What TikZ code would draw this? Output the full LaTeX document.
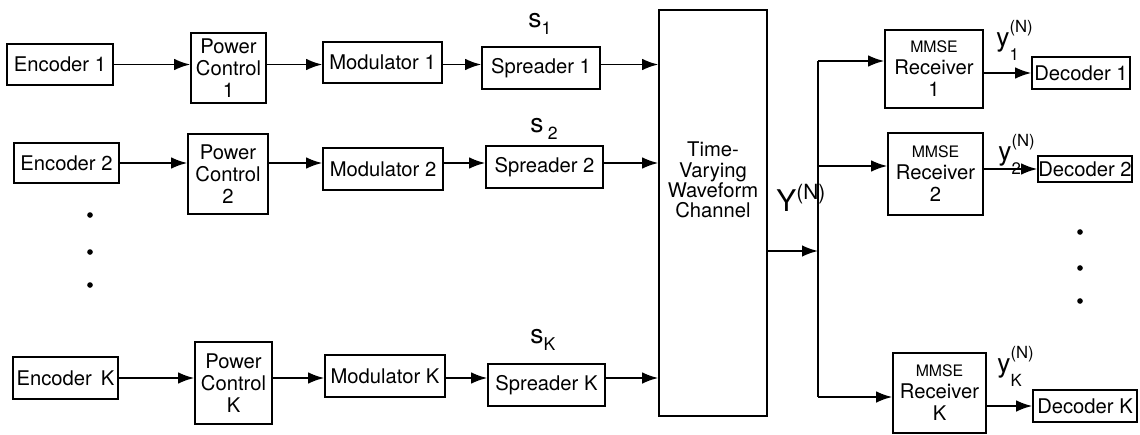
\documentclass[tikz,border=0pt]{standalone}
\usepackage{fontspec}
\setmainfont{TeX Gyre Heros}
\usetikzlibrary{arrows.meta}

\newcommand{\ylab}[1]{y\rlap{\raisebox{0.5em}{\fontsize{9.5}{10}\selectfont(N)}}%
  \raisebox{-0.55em}{\fontsize{9.5}{10}\selectfont #1}}

\begin{document}
\begin{tikzpicture}[x=0.2mm, y=-0.2mm,
  blk/.style={draw, line width=0.9pt, inner sep=0pt, align=center, font=\fontsize{11.5}{12.5}\selectfont},
  arr/.style={line width=1pt, -{Latex[length=3.2mm, width=2.3mm]}},
  lbl/.style={inner sep=0pt, anchor=base west, font=\fontsize{15}{16}\selectfont},
  dot/.style={circle, fill, inner sep=0pt, minimum size=3.2pt}]
  \useasboundingbox (0,0) rectangle (1140,435);

  % encoder
  \node[blk, minimum width=21.2mm, minimum height=8.2mm] (enc1) at (60,64.5) {Encoder 1};
  \node[blk, minimum width=21mm, minimum height=8mm] (enc2) at (66.5,163) {Encoder 2};
  \node[blk, minimum width=21mm, minimum height=8.4mm] (encK) at (65.5,378) {Encoder\, K};

  % controllo di potenza
  \node[blk, minimum width=15mm, minimum height=14mm] (pc1) at (228.5,68) {Power\\Control\\1};
  \node[blk, minimum width=16mm, minimum height=16mm] (pc2) at (228,174) {Power\\Control\\2};
  \node[blk, minimum width=15.4mm, minimum height=16.4mm] (pcK) at (233.5,383) {Power\\Control\\K};

  % modulatori
  \node[blk, minimum width=23.8mm, minimum height=8.2mm] (mod1) at (382.5,62.5) {Modulator 1};
  \node[blk, minimum width=24mm, minimum height=8.4mm] (mod2) at (383,169) {Modulator 2};
  \node[blk, minimum width=24mm, minimum height=8.4mm] (modK) at (385,376) {Modulator K};

  % spreader
  \node[blk, minimum width=23.6mm, minimum height=8.4mm] (spr1) at (541,68) {Spreader 1};
  \node[blk, minimum width=23.4mm, minimum height=8.4mm] (spr2) at (544.5,167) {Spreader 2};
  \node[blk, minimum width=23.4mm, minimum height=8.4mm] (sprK) at (546.5,385) {Spreader K};

  % canale
  \node[blk, minimum width=21.6mm, minimum height=81.2mm] (ch) at (713,213) {};
  \node[font=\fontsize{11.5}{11.5}\selectfont, align=center, inner sep=0pt] (chtxt) at (713,180) {Time-\\Varying\\Waveform\\Channel};

  % ricevitori
  \node[blk, minimum width=19.6mm, minimum height=15.6mm] (rec1) at (934,69) {{\fontsize{9}{12.5}\selectfont MMSE}\\Receiver\\1};
  \node[blk, minimum width=19mm, minimum height=16.4mm] (rec2) at (935.5,174) {{\fontsize{9}{12.5}\selectfont MMSE}\\Receiver\\2};
  \node[blk, minimum width=18.6mm, minimum height=16mm] (recK) at (939.5,393) {{\fontsize{9}{12.5}\selectfont MMSE}\\Receiver\\K};

  % decoder
  \node[blk, minimum width=19.6mm, minimum height=6.4mm] (dec1) at (1081,73) {Decoder 1};
  \node[blk, minimum width=18.8mm, minimum height=5.2mm] (dec2) at (1085,169) {Decoder 2};
  \node[blk, minimum width=20.8mm, minimum height=6.4mm] (decK) at (1085,406) {Decoder K};

  % frecce riga 1
  \draw[arr] (enc1.east) -- (pc1.west |- enc1.east);
  \draw[arr] (pc1.east |- enc1.east) -- (mod1.west |- enc1.east);
  \draw[arr] (mod1.east |- enc1.east) -- (spr1.west |- enc1.east);
  \draw[arr] (spr1.east |- enc1.east) -- (ch.west |- enc1.east);

  % frecce riga 2
  \draw[arr] (enc2.east) -- (pc2.west |- enc2.east);
  \draw[arr] (pc2.east |- enc2.east) -- (mod2.west |- enc2.east);
  \draw[arr] (mod2.east |- enc2.east) -- (spr2.west |- enc2.east);
  \draw[arr] (spr2.east |- enc2.east) -- (ch.west |- enc2.east);

  % frecce riga K
  \draw[arr] (encK.east) -- (pcK.west |- encK.east);
  \draw[arr] (pcK.east |- encK.east) -- (modK.west |- encK.east);
  \draw[arr] (modK.east |- encK.east) -- (sprK.west |- encK.east);
  \draw[arr] (sprK.east |- encK.east) -- (ch.west |- encK.east);

  % bus di uscita
  \coordinate (b1) at (818,61);
  \coordinate (b2) at (818,166);
  \coordinate (bm) at (818,251);
  \coordinate (bK) at (818,397);
  \draw[line width=1pt] (b1) -- (bK);
  \draw[arr] (ch.east |- bm) -- (bm);
  \draw[arr] (b1) -- (rec1.west |- b1);
  \draw[arr] (b2) -- (rec2.west |- b2);
  \draw[arr] (bK) -- (recK.west |- bK);

  % ricevitore -> decoder
  \draw[arr] (rec1.east |- dec1) -- (dec1.west);
  \draw[arr] (rec2.east |- dec2) -- (dec2.west);
  \draw[arr] (recK.east |- decK) -- (decK.west);

  % etichette
  \node[lbl] (s1) at (528,27) {s\raisebox{-0.3em}{\fontsize{10}{10}\selectfont 1}};
  \node[lbl] (s2) at (530,132) {s\,\raisebox{-0.3em}{\fontsize{10}{10}\selectfont 2}};
  \node[lbl] (sK) at (530,343) {s\raisebox{-0.3em}{\fontsize{10}{10}\selectfont K}};
  \node[lbl] (y1) at (996,46) {\ylab{1}};
  \node[lbl] (y2) at (998,160) {\ylab{2}};
  \node[lbl] (yK) at (997,372) {\ylab{K}};
  \node[lbl, font=\fontsize{17}{19}\selectfont] (Y) at (776,211) {Y\textsuperscript{(N)}};

  % puntini
  \node[dot] (l1) at (90,215) {};
  \node[dot] (l2) at (90,252) {};
  \node[dot] (l3) at (90,285) {};
  \node[dot] (r1) at (1080,232) {};
  \node[dot] (r2) at (1080,268) {};
  \node[dot] (r3) at (1080,301) {};
\end{tikzpicture}
\end{document}
